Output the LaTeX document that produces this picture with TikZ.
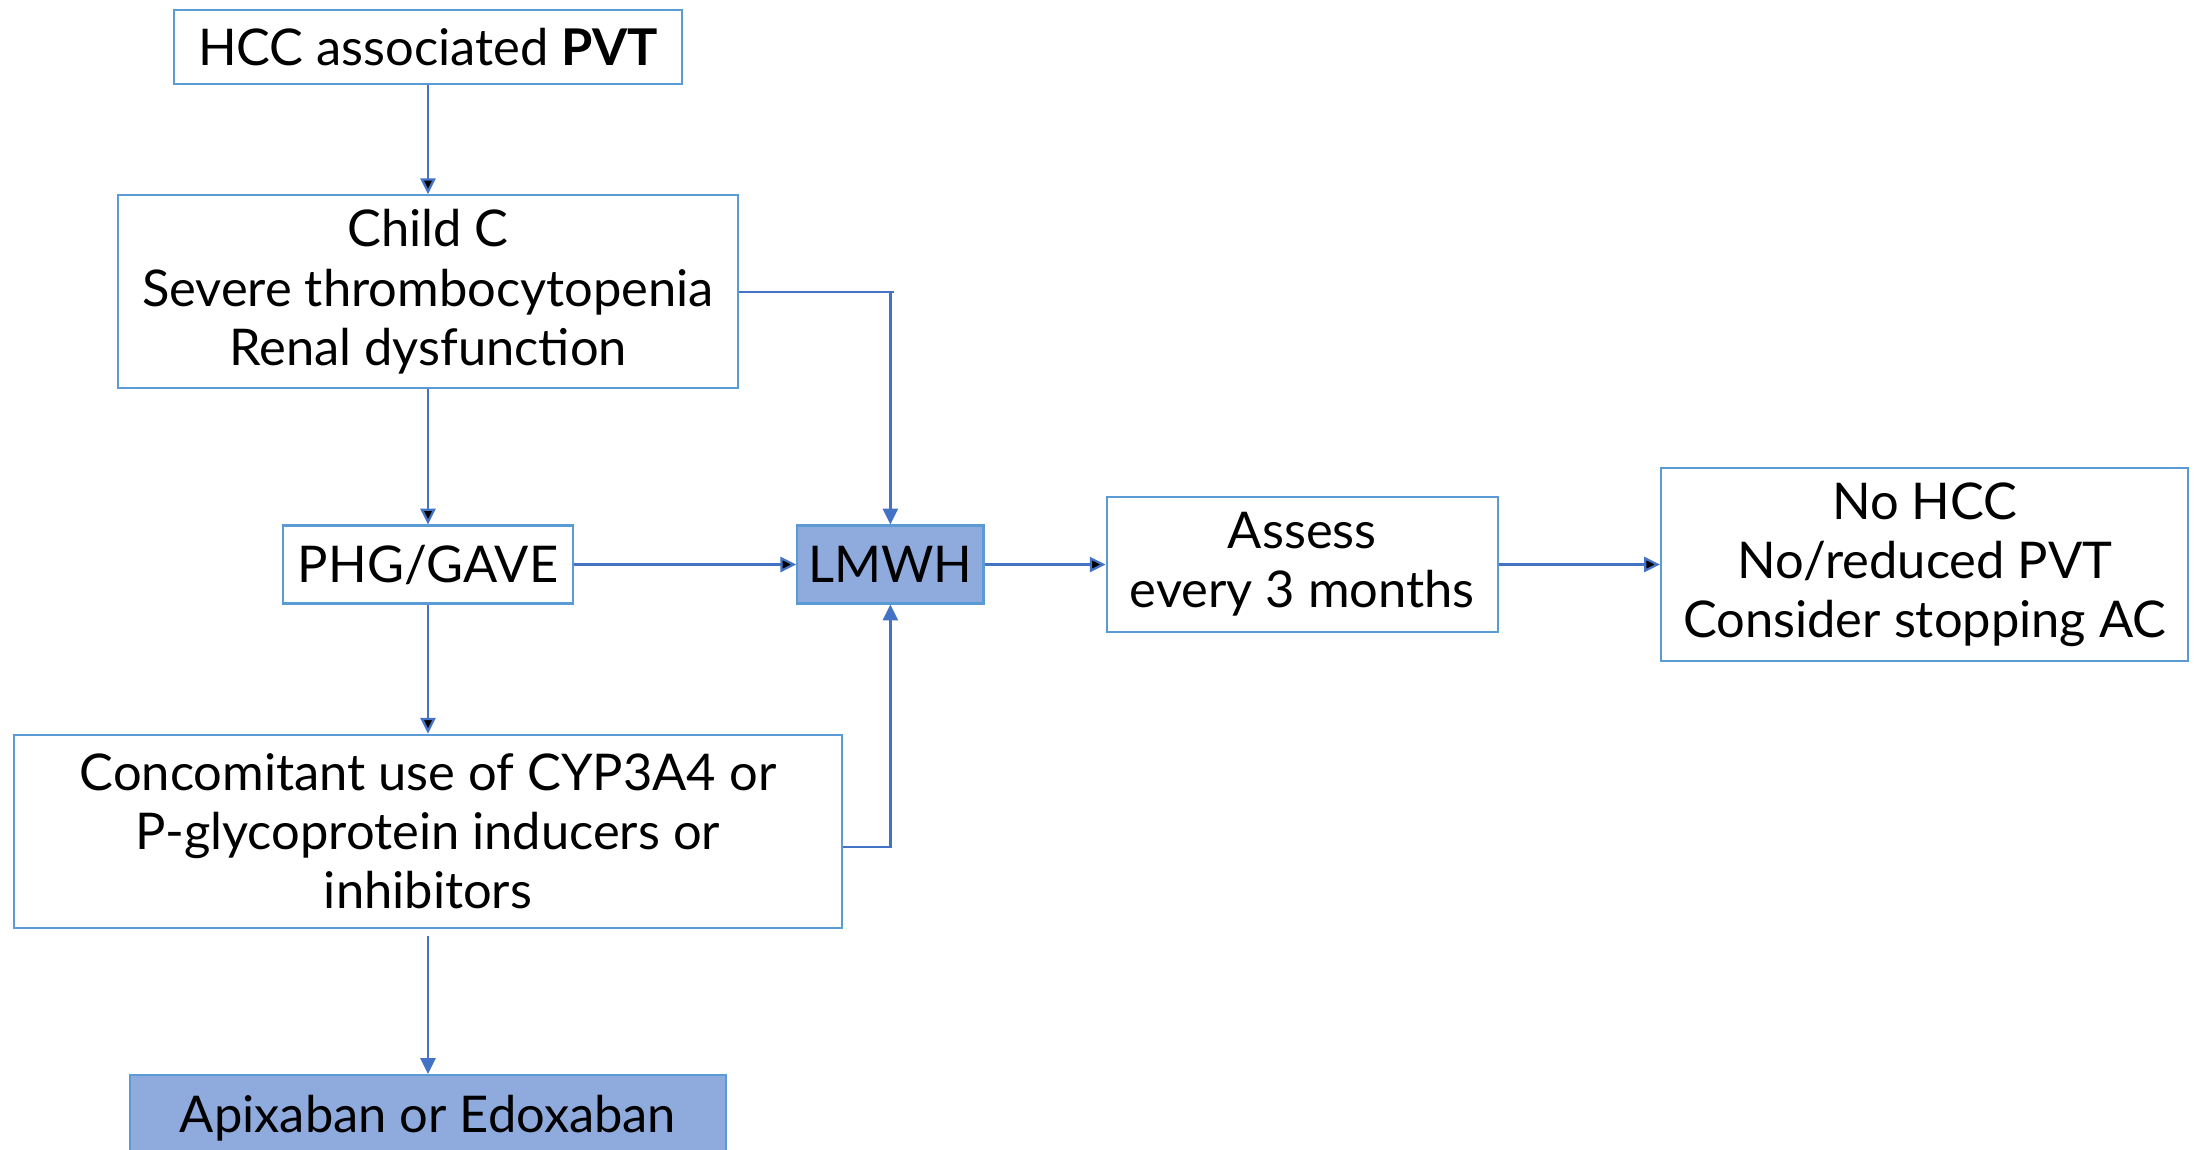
\documentclass[tikz,border=0pt]{standalone}
\usepackage{fontspec}
\setmainfont{Lato}
\usepackage{tikz}
\usetikzlibrary{arrows.meta,positioning}
\definecolor{boxline}{RGB}{91,155,213}
\definecolor{arrowline}{RGB}{68,114,196}
\definecolor{boxfill}{RGB}{143,170,220}
\tikzset{
    %Define standard arrow tip
    >={Triangle[length=4.5pt,width=4.3pt]},
    %Define style for boxes
    stepbox/.style={
           rectangle,
           draw=boxline, line width=0.6pt,
           inner sep=0pt,
           font=\fontsize{14.4}{16.8}\selectfont,
           align=center},
    drugbox/.style={
           stepbox,
           fill=boxfill},
    % Define arrow style
    pil/.style={
           ->,
           draw=arrowline,
           line width=0.65pt}
}
\begin{document}
\begin{tikzpicture}[x=0.01cm,y=-0.01cm]
\useasboundingbox (0,0) rectangle (2195,1149);
\clip (0,0) rectangle (2195,1149);

 %nodes
\node[stepbox, minimum width=5.08cm, minimum height=0.74cm] (hcc) at (428,47)
    {HCC associated \textbf{PVT}};
\node[stepbox, minimum width=6.2cm, minimum height=1.93cm, below=1.09cm of hcc] (child)
    {Child C\\Severe thrombocytopenia\\Renal dysfunction};
\node[stepbox, minimum width=2.9cm, minimum height=0.78cm, below=1.35cm of child] (phg)
    {PHG/GAVE};
\node[drugbox, minimum width=1.86cm, minimum height=0.78cm, right=2.22cm of phg] (lmwh)
    {LMWH};
\node[stepbox, minimum width=3.91cm, minimum height=1.35cm, right=1.21cm of lmwh] (assess)
    {Assess\\every 3 months};
\node[stepbox, minimum width=5.27cm, minimum height=1.93cm, right=1.61cm of assess] (nohcc)
    {No HCC\\No/reduced PVT\\Consider stopping AC};
\node[stepbox, minimum width=8.27cm, minimum height=1.93cm, below=1.29cm of phg] (conc)
    {Concomitant use of CYP3A4 or\\P-glycoprotein inducers or\\inhibitors};
\node[drugbox, minimum width=5.95cm, minimum height=0.86cm, below=1.45cm of conc] (apix)
    {Apixaban or Edoxaban};

 %connectors
\coordinate (cbend) at (child.east -| lmwh.north);
\coordinate (ctip) at ([xshift=0.04cm]cbend);
\coordinate (cout) at ([yshift=-0.16cm]conc.east);
\draw[pil, -] (child.east) -- (ctip);
\draw[pil] (cbend) -- (lmwh.north);
\draw[pil] (cout) -| (lmwh.south);
\path[pil]
    (hcc) edge (child)
    (child) edge (phg)
    (phg) edge (lmwh)
    (phg) edge (conc)
    (lmwh) edge (assess)
    (assess) edge (nohcc);
\draw[pil, shorten <=0.07cm] (conc) -- (apix);
\end{tikzpicture}
\end{document}
